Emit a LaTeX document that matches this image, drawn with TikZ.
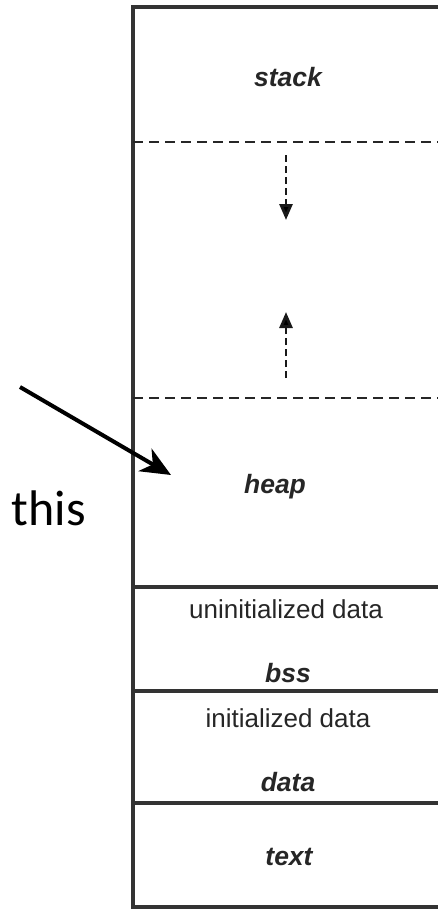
\documentclass[tikz,border=0pt]{standalone}
\usepackage{fontspec}
\setmainfont{Liberation Sans}
\newfontfamily\calibfont{Carlito}
\usetikzlibrary{arrows.meta}

\begin{document}
\begin{tikzpicture}[x=1pt,y=-1pt]
\useasboundingbox (0,0) rectangle (438,910);
\begin{scope}[every node/.style={text=black!85,inner sep=0pt,
              font=\fontsize{26.5}{30}\selectfont\bfseries\itshape}]
    \node (stack) at (288,77) {stack};
    \node (heap) at (275,487) {heap};
    \node (bss) at (288,673) {bss};
    \node (data) at (288,782) {data};
    \node (text) at (289,857) {text};
\end{scope}
\begin{scope}[every node/.style={text=black!85,inner sep=0pt,
              font=\fontsize{26}{30}\selectfont}]
    \node (uninit) at (286,609) {uninitialized data};
    \node (init) at (288,718) {initialized data};
\end{scope}
\node[font=\calibfont\fontsize{50}{54}\selectfont] (this) at (49,508) {this};
% box
\coordinate (tl) at (133,7);
\coordinate (tr) at (438,7);
\coordinate (bl) at (133,907);
\coordinate (br) at (438,907);
\coordinate (d1l) at (133,142);
\coordinate (d1r) at (438,142);
\coordinate (d2l) at (133,398);
\coordinate (d2r) at (438,398);
\coordinate (s1l) at (133,587);
\coordinate (s1r) at (438,587);
\coordinate (s2l) at (133,691);
\coordinate (s2r) at (438,691);
\coordinate (s3l) at (133,803);
\coordinate (s3r) at (438,803);
\begin{scope}[every edge/.style={draw=black!80,line width=3.2pt,line cap=rect}]
    \path (tl) edge (tr);
    \path (tl) edge (bl);
    \path (bl) edge (br);
    \path (s1l) edge (s1r);
    \path (s2l) edge (s2r);
    \path (s3l) edge (s3r);
\end{scope}
\begin{scope}[every edge/.style={draw=black!85,line width=2.8pt,dash pattern=on 10pt off 6pt}]
    \path (d1l) edge (d1r);
    \path (d2l) edge (d2r);
\end{scope}
% growth arrows
\coordinate (downa) at (286,155);
\coordinate (downb) at (286,220);
\coordinate (upa) at (286,378);
\coordinate (upb) at (286,312);
\begin{scope}[every edge/.style={draw=black!90,line width=2.8pt,dash pattern=on 7pt off 4pt,
              -{Triangle[length=16pt,width=13pt,fill=black]}}]
    \path (downa) edge (downb);
    \path (upa) edge (upb);
\end{scope}
% pointer
\coordinate (pa) at (20,387);
\coordinate (pb) at (171,475);
\draw[line width=4pt,-{Stealth[length=30pt,width=26pt,inset=9pt]}] (pa) -- (pb);
\end{tikzpicture}
\end{document}
